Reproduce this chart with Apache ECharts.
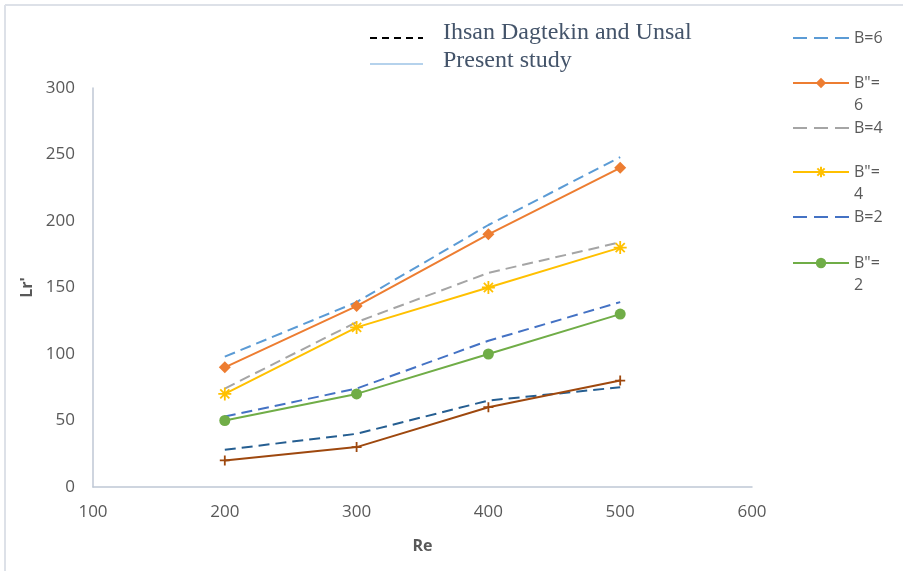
<!DOCTYPE html>
<html>
<head>
<meta charset="utf-8">
<script src="https://cdn.jsdelivr.net/npm/echarts@6/dist/echarts.min.js"></script>
<style>
html,body{margin:0;padding:0;background:#fff;}
#chart{width:903px;height:571px;}
</style>
</head>
<body>
<div id="chart"></div>
<script>
const reValues = [200, 300, 400, 500];
const xTicks = [100, 200, 300, 400, 500, 600];
const yTicks = [0, 50, 100, 150, 200, 250, 300];
const seriesNames = ['B=6', 'B"=6', 'B=4', 'B"=4', 'B=2', 'B"=2', 'Ihsan Dagtekin B=2', 'Present B"=2 ref'];
const b6Dashed = [98, 139, 197, 248];
const b6Solid = [90, 136, 190, 240];
const b4Dashed = [74, 124, 161, 184];
const b4Solid = [70, 120, 150, 180];
const b2Dashed = [53, 74, 110, 139];
const b2Solid = [50, 70, 100, 130];
const ihsanDashed = [28, 40, 65, 75];
const presentCross = [20, 30, 60, 80];
const legendNames = ['B=6', 'B"=6', 'B=4', 'B"=4', 'B=2', 'B"=2'];

const pairs = arr => reValues.map((x, i) => [x, arr[i]]);
const dash = [11, 6];
const asterisk = 'path://M0,5L10,5M5,0L5,10M1.5,1.5L8.5,8.5M8.5,1.5L1.5,8.5';
const plus = 'path://M0,5L10,5M5,0L5,10';

function dashedSeries(name, data, color) {
  return { name, type: 'line', data: pairs(data), symbol: 'none', lineStyle: { color, width: 2, type: dash }, itemStyle: { color }, z: 2 };
}
function solidSeries(name, data, color, symbol, size, stroke) {
  const s = { name, type: 'line', data: pairs(data), symbol, symbolSize: size, lineStyle: { color, width: 2 }, itemStyle: { color }, z: 3 };
  if (stroke) s.itemStyle = { color, borderColor: color, borderWidth: 1.8 };
  return s;
}

const series = [
  dashedSeries(seriesNames[0], b6Dashed, '#5B9BD5'),
  solidSeries(seriesNames[1], b6Solid, '#ED7D31', 'diamond', 12),
  dashedSeries(seriesNames[2], b4Dashed, '#A5A5A5'),
  solidSeries(seriesNames[3], b4Solid, '#FFC000', asterisk, 13, true),
  dashedSeries(seriesNames[4], b2Dashed, '#4472C4'),
  solidSeries(seriesNames[5], b2Solid, '#70AD47', 'circle', 11),
  dashedSeries(seriesNames[6], ihsanDashed, '#255E91'),
  solidSeries(seriesNames[7], presentCross, '#9E480E', plus, 10, true)
];

const legendTop = [27, 72, 117, 161, 206, 252];
const legends = legendNames.map((n, i) => {
  const wrapped = n.indexOf('"') >= 0;
  const item = wrapped ? { name: n } : { name: n, itemStyle: { opacity: 0 }, lineStyle: { type: [14, 7] } };
  return {
    data: [item],
    orient: 'vertical',
    left: 792,
    top: legendTop[i] - (wrapped ? 22 : 0),
    padding: 0,
    itemWidth: 56,
    itemHeight: 13,
    selectedMode: false,
    formatter: name => name.indexOf('"') >= 0 ? ' \n' + name.replace('=', '=\n') : name,
    textStyle: {
      fontFamily: 'Open Sans, Liberation Sans, sans-serif',
      fontSize: 16,
      color: '#595959',
      lineHeight: 22
    }
  };
});

const chart = echarts.init(document.getElementById('chart'), null, { renderer: 'canvas' });
chart.setOption({
  animation: false,
  backgroundColor: '#fff',
  grid: { left: 93, right: 151, top: 88, bottom: 84 },
  legend: legends,
  xAxis: {
    type: 'value', min: xTicks[0], max: xTicks[xTicks.length - 1], interval: 100,
    name: 'Re', nameLocation: 'middle', nameGap: 51,
    nameTextStyle: { fontFamily: 'Open Sans, Liberation Sans, sans-serif', fontSize: 16, fontWeight: 'bold', color: '#595959' },
    axisLine: { lineStyle: { color: '#BFC7D5', width: 1.5 } },
    axisTick: { show: false },
    splitLine: { show: false },
    axisLabel: { fontFamily: 'Open Sans, Liberation Sans, sans-serif', fontSize: 17, color: '#595959', margin: 17 }
  },
  yAxis: {
    type: 'value', min: yTicks[0], max: yTicks[yTicks.length - 1], interval: 50,
    name: "Lr'", nameLocation: 'middle', nameGap: 58, nameRotate: 90,
    nameTextStyle: { fontFamily: 'Open Sans, Liberation Sans, sans-serif', fontSize: 16, fontWeight: 'bold', color: '#595959' },
    axisLine: { show: true, lineStyle: { color: '#BFC7D5', width: 1.5 } },
    axisTick: { show: false },
    splitLine: { show: false },
    axisLabel: { fontFamily: 'Open Sans, Liberation Sans, sans-serif', fontSize: 17, color: '#595959', margin: 18 }
  },
  graphic: [
    { type: 'line', shape: { x1: 5, y1: 5, x2: 903, y2: 5 }, style: { stroke: '#DDE1E8', lineWidth: 2 } },
    { type: 'line', shape: { x1: 5, y1: 5, x2: 5, y2: 571 }, style: { stroke: '#DDE1E8', lineWidth: 2 } },
    { type: 'line', shape: { x1: 370, y1: 38, x2: 423, y2: 38 }, style: { stroke: '#000', lineWidth: 2, lineDash: [7, 5] } },
    { type: 'line', shape: { x1: 370, y1: 64, x2: 423, y2: 64 }, style: { stroke: '#9DC3E6', lineWidth: 1.5 } },
    { type: 'text', left: 443, top: 21, style: { text: 'Ihsan Dagtekin and Unsal', font: '24px "Liberation Serif", serif', fill: '#44546A' } },
    { type: 'text', left: 443, top: 49, style: { text: 'Present study', font: '24px "Liberation Serif", serif', fill: '#44546A' } }
  ],
  series
});
</script>
</body>
</html>
